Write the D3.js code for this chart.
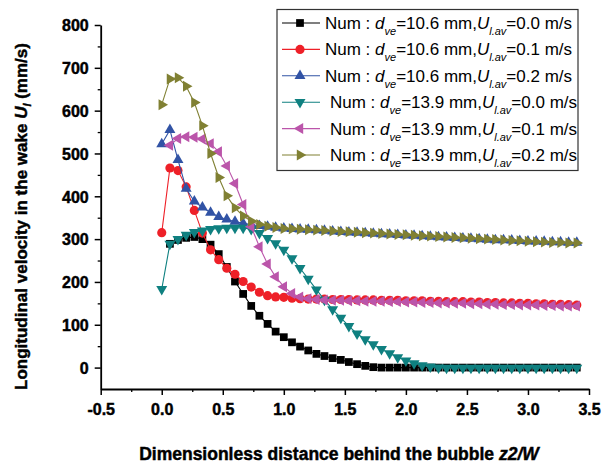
<!DOCTYPE html>
<html>
<meta charset="UTF-8">
<head>
    <style>
        body { margin: 0; background: #fff; }
        svg { font-family: Arial, "Liberation Sans", sans-serif; }
        .axis path, .axis line { stroke: #000; }
        .heavy { stroke: #000; stroke-width: 0.45px; }
    </style>
</head>
<body>
    <script src="https://d3js.org/d3.v7.min.js"></script>
    <svg id="svg" width="602" height="466"></svg>

    <script type="text/javascript">
        // z2/W positions of the samples
        const zw = [0.000, 0.067, 0.133, 0.200, 0.267, 0.333, 0.400, 0.467, 0.533, 0.600,
            0.667, 0.733, 0.800, 0.867, 0.933, 1.000, 1.067, 1.133, 1.200, 1.267,
            1.333, 1.400, 1.467, 1.533, 1.600, 1.667, 1.733, 1.800, 1.867, 1.933,
            2.000, 2.067, 2.133, 2.200, 2.267, 2.333, 2.400, 2.467, 2.533, 2.600,
            2.667, 2.733, 2.800, 2.867, 2.933, 3.000, 3.067, 3.133, 3.200, 3.267,
            3.333, 3.400];

        // wake velocity (mm/s), null = no sample
        const d106_u00 = [null, 289, 298, 303, 305, 300, 287, 265, 235, 201,
            172, 144, 121, 102, 84, 71, 59, 49, 40, 32,
            27, 22, 18, 13, 8, 4, 1, 0, 0, 0,
            0, 0, 0, 0, 0, 0, 0, 0, 0, 0,
            0, 0, 0, 0, 0, 0, 0, 0, 0, 0,
            0, 0];
        const d106_u01 = [315, 466, 460, 422, 367, 314, 275, 252, 232, 218,
            201, 188, 176, 168, 165, 164, 162, 161, 160, 160,
            160, 159, 159, 159, 158, 158, 158, 157, 157, 157,
            156, 156, 156, 155, 155, 154, 154, 154, 153, 153,
            152, 152, 151, 151, 150, 150, 149, 149, 148, 148,
            147, 146];
        const d106_u02 = [522, 555, 485, 418, 388, 374, 362, 352, 346, 341,
            337, 334, 331, 329, 327, 325, 324, 323, 322, 321,
            320, 318, 317, 316, 315, 314, 313, 312, 311, 310,
            309, 308, 307, 306, 305, 304, 303, 302, 301, 300,
            299, 298, 298, 297, 296, 295, 295, 294, 293, 293,
            292, 292];
        const d139_u00 = [183, 289, 300, 310, 316, 320, 323, 325, 326, 326,
            326, 323, 314, 302, 290, 275, 255, 232, 207, 182,
            158, 136, 116, 97, 79, 66, 54, 43, 33, 24,
            16, 10, 5, 2, 0, -1, -1, -1, -1, -1,
            -1, -1, -1, -1, -1, -1, -1, -1, -1, -1,
            -1, -1];
        const d139_u01 = [null, 519, 535, 539, 538, 534, 523, 504, 471, 430,
            381, 329, 282, 242, 212, 189, 173, 165, 161, 159,
            158, 157, 157, 156, 156, 155, 155, 155, 154, 154,
            153, 153, 152, 152, 151, 151, 150, 150, 149, 149,
            148, 148, 147, 147, 146, 146, 146, 145, 145, 144,
            144, 144];
        const d139_u02 = [614, 674, 677, 657, 619, 565, 500, 444, 401, 373,
            354, 342, 334, 330, 327, 325, 324, 323, 322, 321,
            320, 319, 318, 317, 316, 315, 314, 313, 312, 311,
            310, 309, 308, 307, 306, 305, 304, 303, 302, 301,
            300, 299, 298, 297, 296, 295, 294, 293, 292, 292,
            291, 291];

        const diam = ["10.6", "10.6", "10.6", "13.9", "13.9", "13.9"];
        const uliq = ["0.0", "0.1", "0.2", "0.0", "0.1", "0.2"];
        const colors = ["#000000", "#ee2028", "#3153a5", "#0f8080", "#bb55aa", "#808033"];
        const xTicks = [-0.5, 0.0, 0.5, 1.0, 1.5, 2.0, 2.5, 3.0, 3.5];
        const yTicks = [0, 100, 200, 300, 400, 500, 600, 700, 800];

        const allSeries = [d106_u00, d106_u01, d106_u02, d139_u00, d139_u01, d139_u02];

        var svg = d3.select("svg");
        var x = d3.scaleLinear().domain([-0.5, 3.5]).range([100.7, 589]);
        var y = d3.scaleLinear().domain([-50, 800]).range([389, 25]);

        // marker shapes: square, circle, up, down, left, right
        var sq = d3.symbol().type(d3.symbolSquare).size(60)();
        var ci = d3.symbol().type(d3.symbolCircle).size(66)();
        var tri = d3.symbol().type(d3.symbolTriangle).size(52)();
        var shapes = [[sq, 0], [ci, 0], [tri, 0], [tri, 180], [tri, -90], [tri, 90]];

        // minor ticks
        svg.append("g").attr("class", "axis").attr("transform", "translate(0,389)")
            .call(d3.axisBottom(x).tickValues(d3.range(-0.25, 3.5, 0.5)).tickSize(3).tickFormat(""))
            .call(g => g.select(".domain").remove())
            .selectAll("line").attr("stroke-width", 1.3);
        svg.append("g").attr("class", "axis").attr("transform", "translate(100.7,0)")
            .call(d3.axisLeft(y).tickValues(d3.range(50, 800, 100)).tickSize(3).tickFormat(""))
            .call(g => g.select(".domain").remove())
            .selectAll("line").attr("stroke-width", 1.3);

        var xa = svg.append("g").attr("class", "axis").attr("transform", "translate(0,389)")
            .call(d3.axisBottom(x).tickValues(xTicks).tickSizeInner(6).tickSizeOuter(0).tickPadding(8).tickFormat(d => d.toFixed(1)));
        xa.select(".domain").attr("stroke-width", 1.8);
        xa.selectAll(".tick line").attr("stroke-width", 1.5);

        var ya = svg.append("g").attr("class", "axis").attr("transform", "translate(100.7,0)")
            .call(d3.axisLeft(y).tickValues(yTicks).tickSizeInner(6).tickSizeOuter(0).tickPadding(6));
        ya.select(".domain").attr("stroke-width", 1.8);
        ya.selectAll(".tick line").attr("stroke-width", 1.5);
        ya.selectAll(".tick text").attr("dy", "0.36em");
        xa.selectAll(".tick text").attr("dy", "0.75em");
        svg.selectAll(".tick text").attr("class", "heavy")
            .style("font-size", "16px").style("font-weight", "bold")
            .style("font-family", "Arial, 'Liberation Sans', sans-serif").attr("fill", "#000");

        // series
        var line = d3.line().defined(d => d[1] != null).x(d => x(d[0])).y(d => y(d[1]));
        allSeries.forEach(function (s, k) {
            var pts = zw.map((z, i) => [z, s[i]]);
            var g = svg.append("g");
            g.append("path").datum(pts).attr("d", line)
                .attr("fill", "none").attr("stroke", colors[k]).attr("stroke-width", 1.1);
            g.selectAll("path.m").data(pts.filter(d => d[1] != null)).enter()
                .append("path").attr("class", "m")
                .attr("d", shapes[k][0])
                .attr("fill", colors[k])
                .attr("transform", d => "translate(" + x(d[0]) + "," + y(d[1]) + ") rotate(" + shapes[k][1] + ")");
        });

        // legend
        var lg = svg.append("g");
        lg.append("rect").attr("x", 277).attr("y", 9.5).attr("width", 301).attr("height", 161)
            .attr("fill", "#fff").attr("stroke", "#333").attr("stroke-width", 1.2);
        for (var i = 0; i < 6; i++) {
            var ly = 23 + i * 26.4;
            lg.append("line").attr("x1", 282).attr("x2", 320).attr("y1", ly).attr("y2", ly)
                .attr("stroke", colors[i]).attr("stroke-width", 1.1);
            lg.append("path").attr("d", shapes[i][0]).attr("fill", colors[i])
                .attr("transform", "translate(300," + ly + ") rotate(" + shapes[i][1] + ")");
            var t = lg.append("text").attr("x", i < 3 ? 325 : 330).attr("y", ly + 6)
                .style("font-size", "17px").attr("fill", "#000");
            t.append("tspan").text("Num : ");
            t.append("tspan").style("font-style", "italic").text("d");
            t.append("tspan").style("font-style", "italic").style("font-size", "11px").attr("dy", 6).text("ve");
            t.append("tspan").attr("dy", -6).text("=" + diam[i] + " mm,");
            t.append("tspan").style("font-style", "italic").text("U");
            t.append("tspan").style("font-style", "italic").style("font-size", "11px").attr("dy", 6).text("l.av");
            t.append("tspan").attr("dy", -6).text("=" + uliq[i] + " m/s");
        }

        // axis titles
        var xt = svg.append("text").attr("class", "heavy").attr("x", 339).attr("y", 460).attr("text-anchor", "middle")
            .style("font-size", "17.5px").style("font-weight", "bold");
        xt.append("tspan").text("Dimensionless distance behind the bubble ");
        xt.append("tspan").style("font-style", "italic").text("z2/W");

        var yt = svg.append("text").attr("class", "heavy").attr("transform", "translate(27,216.5) rotate(-90)")
            .attr("text-anchor", "middle").style("font-size", "17px").style("font-weight", "bold");
        yt.append("tspan").text("Longitudinal velocity in the wake ");
        yt.append("tspan").style("font-style", "italic").text("U");
        yt.append("tspan").style("font-style", "italic").style("font-size", "11px").attr("dy", 4).text("l");
        yt.append("tspan").attr("dy", -4).text(" (mm/s)");
    </script>
</body>
</html>
